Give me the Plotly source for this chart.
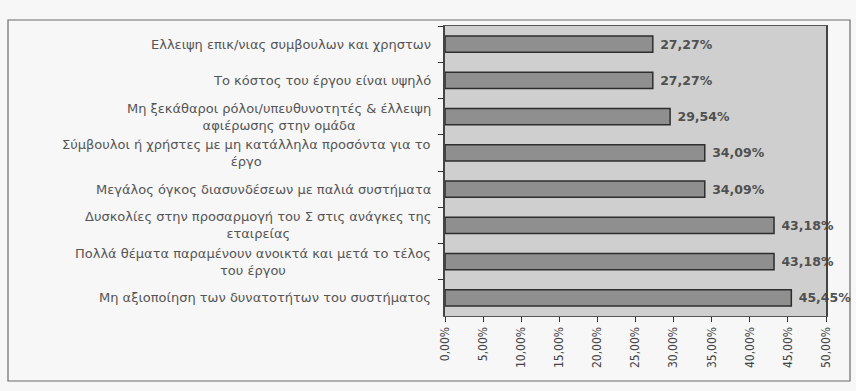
import plotly.graph_objects as go

# Reasons reported for ERP project difficulties (share of respondents)
categories = [
    "Ελλειψη επικ/νιας συμβουλων και χρηστων",
    "Το κόστος του έργου είναι υψηλό",
    "Μη ξεκάθαροι ρόλοι/υπευθυνοτητές & έλλειψη<br>αφιέρωσης στην ομάδα",
    "Σύμβουλοι ή χρήστες με μη κατάλληλα προσόντα για το<br>έργο",
    "Μεγάλος όγκος διασυνδέσεων με παλιά συστήματα",
    "Δυσκολίες στην προσαρμογή του Σ στις ανάγκες της<br>εταιρείας",
    "Πολλά θέματα παραμένουν ανοικτά και μετά το τέλος<br>του έργου",
    "Μη αξιοποίηση των δυνατοτήτων του συστήματος",
]
values = [0.2727, 0.2727, 0.2954, 0.3409, 0.3409, 0.4318, 0.4318, 0.4545]
x_ticks = [0.0, 0.05, 0.10, 0.15, 0.20, 0.25, 0.30, 0.35, 0.40, 0.45, 0.50]

W, H = 856, 391
PL, PR, PT, PB = 445, 826, 26, 316  # plot area in pixels


def to_paper_x(px):
    return (px - PL) / (PR - PL)


def to_paper_y(py):
    return (PB - py) / (PB - PT)


fig = go.Figure()
fig.add_trace(go.Bar(
    y=categories,
    x=values,
    orientation="h",
    width=0.45,
    marker=dict(color="#8f8f8f", line=dict(color="#2e2e2e", width=1.5)),
    texttemplate=" %{x:.2%}",
    textposition="outside",
    textfont=dict(family="DejaVu Sans", size=12.5, color="#505050", weight="bold"),
    cliponaxis=False,
    constraintext="none",
    hoverinfo="skip",
))

# Category labels, right-aligned to the axis with centred wrapped lines
for cat in categories:
    fig.add_annotation(
        xref="paper", yref="y", x=0, y=cat,
        text=cat, showarrow=False,
        xanchor="right", yanchor="middle", align="center", xshift=-12,
        font=dict(family="DejaVu Sans", size=13, color="#555555"),
    )

# Outer chart frame
fig.add_shape(
    type="rect", xref="paper", yref="paper",
    x0=to_paper_x(8), x1=to_paper_x(850), y0=to_paper_y(381), y1=to_paper_y(20),
    line=dict(color="#6a6a6a", width=1.2), fillcolor="rgba(0,0,0,0)", layer="below",
)

fig.update_layout(
    width=W, height=H,
    margin=dict(l=PL, r=W - PR, t=PT, b=H - PB, pad=0),
    paper_bgcolor="#f7f7f7",
    plot_bgcolor="#cfcfcf",
    separators=", ",
    showlegend=False,
    xaxis=dict(
        range=[0, 0.5],
        tickvals=x_ticks,
        tickformat=".2%",
        tickangle=-90,
        ticks="outside", ticklen=5, tickcolor="#333",
        tickfont=dict(family="DejaVu Sans Condensed", size=12, color="#444"),
        showgrid=False, zeroline=False,
        showline=True, linecolor="#555", linewidth=1.2, mirror=True,
    ),
    yaxis=dict(
        autorange="reversed",
        showticklabels=False,
        ticks="outside", ticklen=5, tickcolor="#333",
        tickson="boundaries",
        showgrid=False, zeroline=False,
        showline=True, linecolor="#444", linewidth=1.5, mirror=True,
    ),
)

fig.write_html("out.html")
